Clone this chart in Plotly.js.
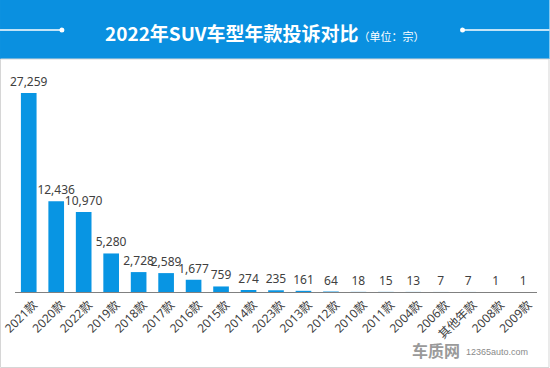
<!DOCTYPE html>
<html><head><meta charset="utf-8">
<script src="https://cdn.plot.ly/plotly-3.0.1.min.js"></script>
<style>html,body{margin:0;padding:0;background:#fff;}#c{width:550px;height:368px;}</style>
</head><body><div id="c"></div>
<script>
const categories = ["2021款","2020款","2022款","2019款","2018款","2017款","2016款","2015款","2014款","2023款","2013款","2012款","2010款","2011款","2004款","2006款","其他年款","2008款","2009款"];
const complaints = [27259,12436,10970,5280,2728,2589,1677,759,274,235,161,64,18,15,13,7,7,1,1];
const titleMain = "2022年SUV车型年款投诉对比";
const titleUnit = "（单位：宗）";

const W=550,H=368, L=15, R=537.5, T=73, B=292;
const px = x => (x-L)/(R-L);
const py = y => (B-y)/(B-T);
const font = '"Noto Sans", "Noto Sans CJK SC", sans-serif';

const shapes = [
  {type:'rect', xref:'paper', yref:'paper', x0:px(0), x1:px(550), y0:py(59), y1:py(0), fillcolor:'#0a90e0', line:{width:0}, layer:'below'},
  {type:'line', xref:'paper', yref:'paper', x0:px(0), x1:px(62), y0:py(30), y1:py(30), line:{color:'#ffffff', width:1.5}},
  {type:'line', xref:'paper', yref:'paper', x0:px(463), x1:px(550), y0:py(30), y1:py(30), line:{color:'#ffffff', width:1.5}},
  {type:'circle', xref:'paper', yref:'paper', x0:px(59.5), x1:px(64.5), y0:py(32.5), y1:py(27.5), fillcolor:'#ffffff', line:{width:0}},
  {type:'circle', xref:'paper', yref:'paper', x0:px(460.5), x1:px(465.5), y0:py(32.5), y1:py(27.5), fillcolor:'#ffffff', line:{width:0}},
  {type:'rect', xref:'paper', yref:'paper', x0:px(0.5), x1:px(549.5), y0:py(367.5), y1:py(59), line:{color:'#d6d6d6', width:1}}
];

const annotations = [
  {xref:'paper', yref:'paper', x:px(103), y:py(32), xanchor:'left', yanchor:'middle', showarrow:false,
   text:'<b>'+titleMain+'</b><span style="font-size:11px">'+titleUnit+'</span>',
   font:{family:'"Noto Sans CJK SC", sans-serif', size:19, color:'#ffffff'}},
  {xref:'paper', yref:'paper', x:px(462), y:py(350), xanchor:'right', yanchor:'middle', showarrow:false,
   text:'<b>车质网</b>', font:{family:'"Noto Sans CJK SC", sans-serif', size:16, color:'#9a9a9a'}},
  {xref:'paper', yref:'paper', x:px(464), y:py(352), xanchor:'left', yanchor:'middle', showarrow:false,
   text:'12365auto.com', font:{family:'"Liberation Sans", sans-serif', size:9, color:'#8a8a8a'}}
];

Plotly.newPlot('c', [{
  type:'bar', x:categories, y:complaints,
  marker:{color:'#0895e3'},
  text:complaints.map(v=>v.toLocaleString('en-US')),
  textposition:'outside', cliponaxis:false, constraintext:'none', textangle:0,
  textfont:{family:font, size:12, color:'#404040'},
  hoverinfo:'none'
}], {
  width:W, height:H,
  margin:{l:L, r:W-R, t:T, b:H-B, pad:0},
  paper_bgcolor:'#ffffff', plot_bgcolor:'#ffffff',
  bargap:0.43, showlegend:false,
  xaxis:{type:'category', tickangle:-45, showline:true, linecolor:'#808080', linewidth:1,
         ticks:'', showgrid:false, zeroline:false, automargin:false, ticklabelshift:5,
         tickfont:{family:font, size:12, color:'#404040'}},
  yaxis:{range:[0,30000], visible:false, showgrid:false, zeroline:false},
  shapes:shapes, annotations:annotations
}, {displayModeBar:false, staticPlot:true});
</script></body></html>
